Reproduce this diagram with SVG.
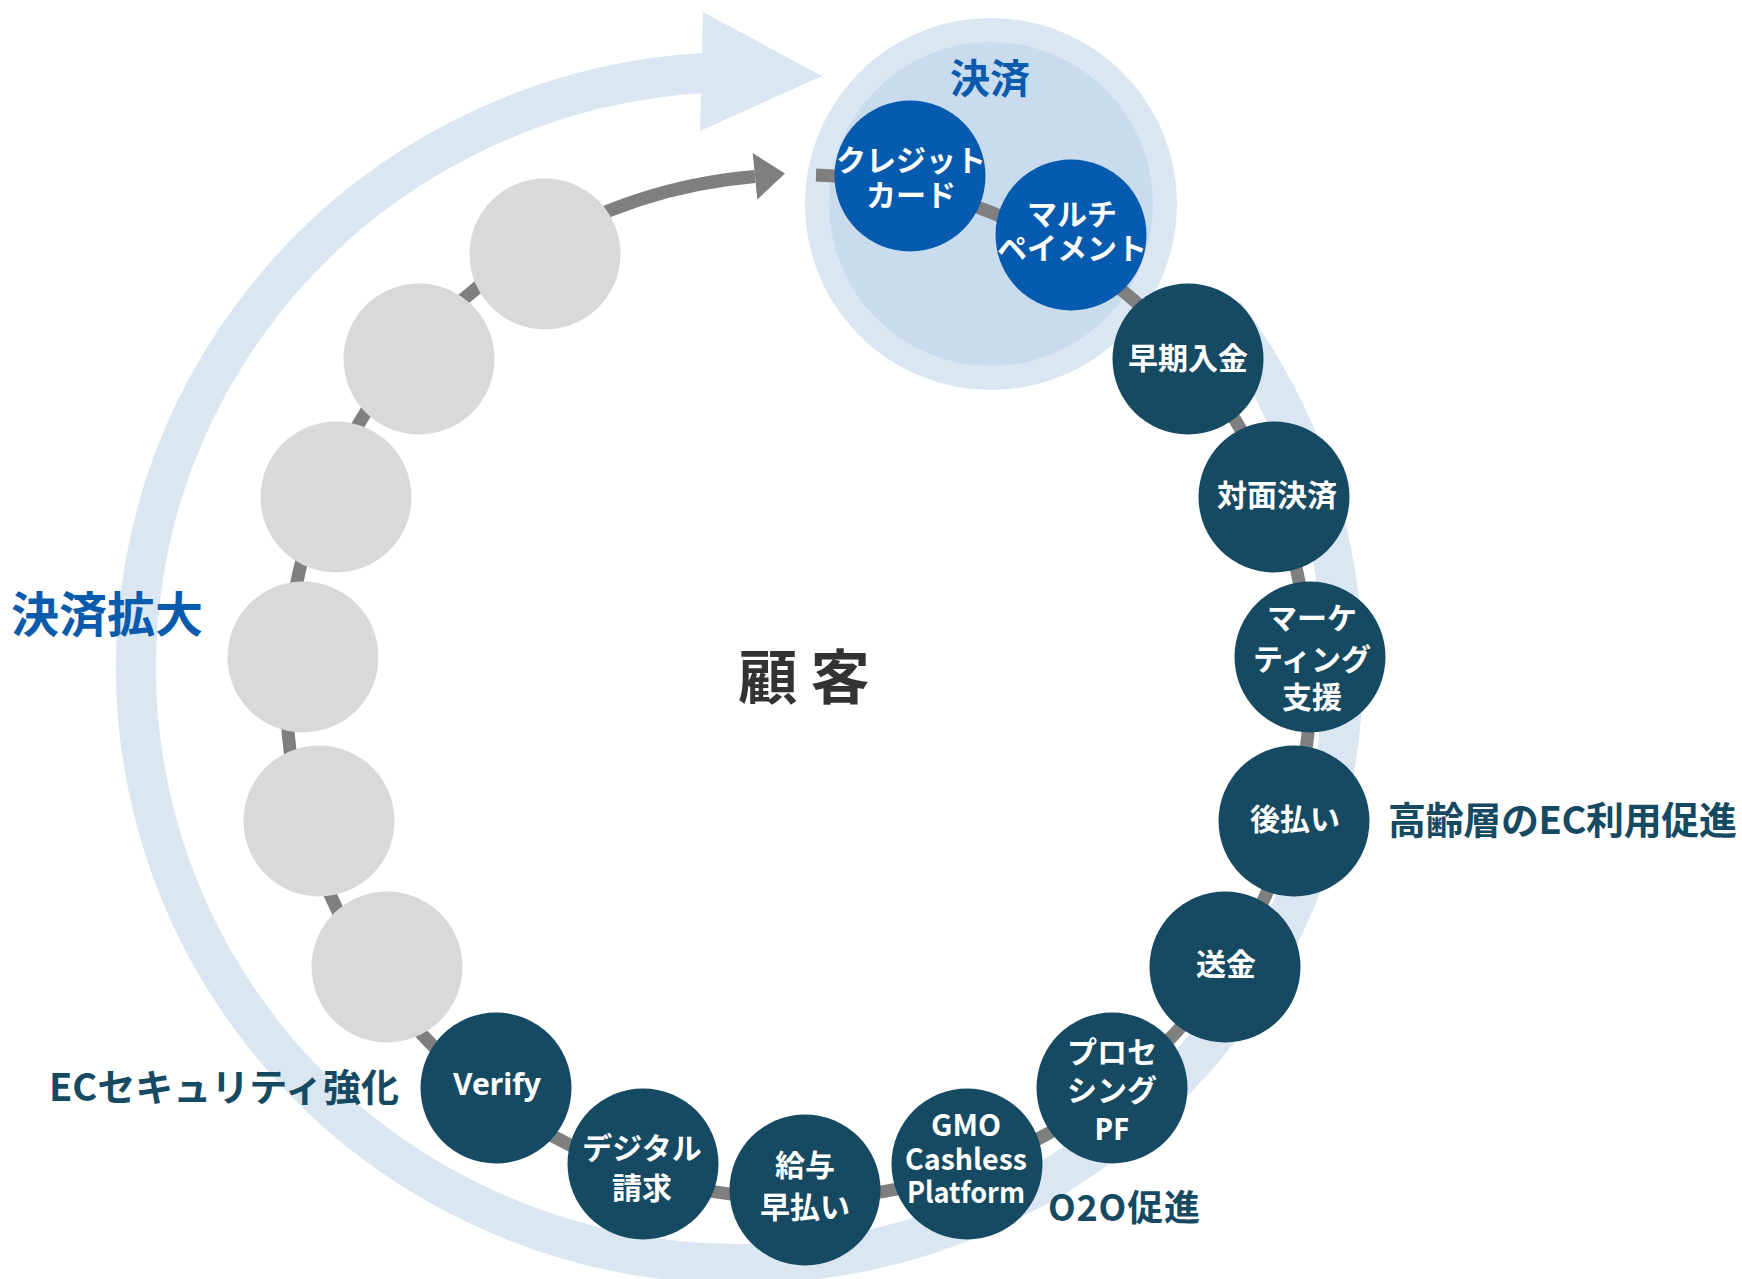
<svg xmlns="http://www.w3.org/2000/svg" width="1742" height="1279" viewBox="0 0 1742 1279">
  <style>
    .band { fill: none; stroke: #DAE7F3; stroke-width: 40; }
    .bandhead { fill: #DAE7F3; }
    .conn { fill: none; stroke: #7F7F7F; stroke-width: 13; }
    .connhead { fill: #7F7F7F; }
    .teal { fill: #164A62; }
    .blue { fill: #075BAE; }
    .gray { fill: #D9D9D9; }
    .nt { font-family: "Noto Sans", "Noto Sans CJK JP", sans-serif; font-weight: 700; font-size: 30px; fill: #FFFFFF; text-anchor: middle; }
    .ntc { font-family: "Noto Sans CJK JP", sans-serif; font-weight: 700; font-size: 29px; fill: #FFFFFF; text-anchor: middle; }
    .lbl { font-family: "Noto Sans CJK JP", sans-serif; font-weight: 700; fill: #164A62; }
    .bluelbl { font-family: "Noto Sans CJK JP", sans-serif; font-weight: 700; fill: #0A5BAD; text-anchor: middle; }
  </style>

  <g id="cycle-arrow">
    <path class="band" d="M 1224.7 313.5 A 603.5 596 0 1 1 703 73"/>
    <polygon class="bandhead" points="703,12 822,76 700,131"/>
  </g>

  <g id="payment-group">
    <circle cx="991" cy="204" r="186" fill="#DAE7F3"/>
    <circle cx="991" cy="204" r="162" fill="#C9DCEE"/>
    <text class="bluelbl" x="990" y="93" font-size="40">決済</text>
  </g>

  <g id="connectors">
    <path class="conn" d="M 816 175 A 512 512 0 1 1 755 176.5"/>
    <polygon class="connhead" points="752.7,153 785,173.5 757.3,199.5"/>
  </g>

  <g id="node-credit">
    <circle class="blue" cx="910" cy="176" r="75.5"/>
    <text class="nt" x="911" y="171">クレジット</text>
    <text class="nt" x="911" y="206">カード</text>
  </g>
  <g id="node-multi">
    <circle class="blue" cx="1071" cy="235" r="75.5"/>
    <text class="nt" x="1072" y="225">マルチ</text>
    <text class="nt" x="1072" y="259">ペイメント</text>
  </g>
  <g id="node-early">
    <circle class="teal" cx="1188" cy="359" r="75.5"/>
    <text class="nt" x="1188" y="369">早期入金</text>
  </g>
  <g id="node-facetoface">
    <circle class="teal" cx="1274" cy="497" r="75.5"/>
    <text class="nt" x="1277" y="506">対面決済</text>
  </g>
  <g id="node-marketing">
    <circle class="teal" cx="1310" cy="657" r="75.5"/>
    <text class="nt" x="1312" y="629">マーケ</text>
    <text class="nt" x="1312" y="670">ティング</text>
    <text class="nt" x="1312" y="708">支援</text>
  </g>
  <g id="node-postpay">
    <circle class="teal" cx="1294" cy="821" r="75.5"/>
    <text class="nt" x="1295" y="830">後払い</text>
  </g>
  <g id="node-remit">
    <circle class="teal" cx="1225" cy="967" r="75.5"/>
    <text class="nt" x="1226" y="975">送金</text>
  </g>
  <g id="node-processing">
    <circle class="teal" cx="1112" cy="1088" r="75.5"/>
    <text class="nt" x="1112" y="1063">プロセ</text>
    <text class="nt" x="1112" y="1101">シング</text>
    <text class="nt" x="1112" y="1140">PF</text>
  </g>
  <g id="node-gmo">
    <circle class="teal" cx="967" cy="1164" r="75.5"/>
    <text class="ntc" x="966" y="1136" textLength="70" lengthAdjust="spacingAndGlyphs">GMO</text>
    <text class="ntc" x="966" y="1170" textLength="122" lengthAdjust="spacingAndGlyphs">Cashless</text>
    <text class="ntc" x="966" y="1203" textLength="118" lengthAdjust="spacingAndGlyphs">Platform</text>
  </g>
  <g id="node-salary">
    <circle class="teal" cx="805" cy="1190" r="75.5"/>
    <text class="nt" x="805" y="1176">給与</text>
    <text class="nt" x="805" y="1218">早払い</text>
  </g>
  <g id="node-digital">
    <circle class="teal" cx="643" cy="1164" r="75.5"/>
    <text class="nt" x="642" y="1159">デジタル</text>
    <text class="nt" x="642" y="1199">請求</text>
  </g>
  <g id="node-verify">
    <circle class="teal" cx="496" cy="1088" r="75.5"/>
    <text class="nt" x="497" y="1095">Verify</text>
  </g>
  <g id="node-gray1"><circle class="gray" cx="387" cy="967" r="75.5"/></g>
  <g id="node-gray2"><circle class="gray" cx="319" cy="821" r="75.5"/></g>
  <g id="node-gray3"><circle class="gray" cx="303" cy="657" r="75.5"/></g>
  <g id="node-gray4"><circle class="gray" cx="336" cy="497" r="75.5"/></g>
  <g id="node-gray5"><circle class="gray" cx="419" cy="359" r="75.5"/></g>
  <g id="node-gray6"><circle class="gray" cx="545" cy="254" r="75.5"/></g>

  <g id="labels">
    <text class="bluelbl" x="107" y="632" font-size="48">決済拡大</text>
    <text x="804" y="699" font-family="Noto Sans CJK JP, sans-serif" font-weight="700" font-size="59" fill="#333333" text-anchor="middle">顧 客</text>
    <text class="lbl" x="1388" y="834" font-size="38" textLength="349" lengthAdjust="spacing">高齢層のEC利用促進</text>
    <text class="lbl" x="1048" y="1221" font-size="36" textLength="152" lengthAdjust="spacing">O2O促進</text>
    <text class="lbl" x="49" y="1101" font-size="38" textLength="350" lengthAdjust="spacing">ECセキュリティ強化</text>
  </g>
</svg>
